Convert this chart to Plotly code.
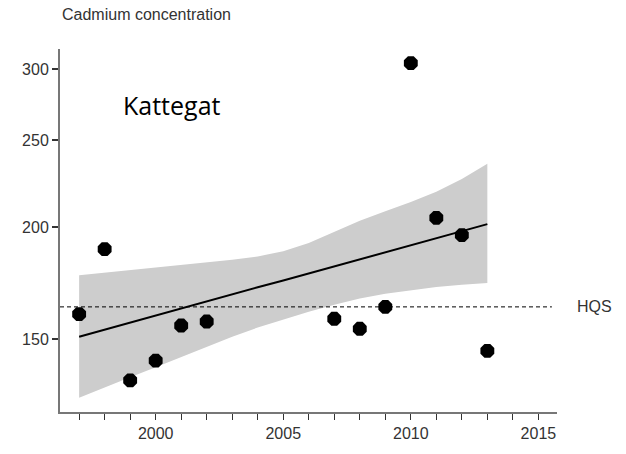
import numpy as np
import plotly.graph_objects as go

# Observed annual cadmium concentrations
years = [1997, 1998, 1999, 2000, 2001, 2002, 2007, 2008, 2009, 2010, 2011, 2012, 2013]
cadmium = [160, 189, 135, 142, 155.4, 157, 158.1, 154.1, 163, 304.5, 204.8, 195.9, 145.6]

# Fitted trend with its confidence band, one value per year
trend_years = list(range(1997, 2014))
trend = [151.0, 153.8, 156.6, 159.4, 162.3, 165.3, 168.3, 171.4, 174.4,
         177.6, 180.9, 184.1, 187.5, 190.9, 194.4, 197.9, 201.5]
band_upper = [176.8, 178.0, 179.1, 180.2, 181.4, 182.6, 183.9, 185.5, 188.0,
              192.0, 197.5, 203.3, 208.3, 213.3, 219.0, 226.3, 235.2]
band_lower = [129.1, 132.6, 136.1, 139.6, 143.3, 147.2, 151.0, 154.6, 157.9,
              161.0, 163.9, 166.5, 168.6, 170.2, 171.5, 172.5, 173.3]

# Quality standard
hqs = 163

y_ticks = [150, 200, 250, 300]
x_range = [1996.25, 2015.73]
y_range = [124.5, 315.7]

axis_col = "#777777"
text_col = "#333333"
font_family = "Liberation Sans, Arial, sans-serif"

fig = go.Figure()

fig.add_trace(go.Scatter(
    x=trend_years, y=band_lower, mode="lines",
    line=dict(width=0, color="rgba(0,0,0,0)"), hoverinfo="skip", showlegend=False,
))
fig.add_trace(go.Scatter(
    x=trend_years, y=band_upper, mode="lines", fill="tonexty",
    fillcolor="#cdcdcd", line=dict(width=0, color="rgba(0,0,0,0)"),
    hoverinfo="skip", showlegend=False,
))
fig.add_trace(go.Scatter(
    x=trend_years, y=trend, mode="lines",
    line=dict(color="black", width=2), showlegend=False,
))
fig.add_trace(go.Scatter(
    x=[x_range[0], 2015.53], y=[hqs, hqs], mode="lines",
    line=dict(color="black", width=1, dash="4px,3px"), showlegend=False,
))
fig.add_trace(go.Scatter(
    x=years, y=cadmium, mode="markers",
    marker=dict(symbol="octagon", size=15, color="black"), showlegend=False,
))

fig.add_annotation(
    text="Cadmium concentration", xref="paper", yref="paper",
    x=0, y=1.0956, xanchor="left", yanchor="middle", showarrow=False,
    font=dict(family=font_family, size=16, color=text_col),
)
fig.add_annotation(
    text="Kattegat", xref="paper", yref="paper",
    x=0.2254, y=0.846, xanchor="center", yanchor="middle", showarrow=False,
    font=dict(family="Open Sans, sans-serif", size=25, color="black"),
)
fig.add_annotation(
    text="HQS", xref="paper", yref="y",
    x=1.036, y=np.log10(hqs), xanchor="left", yanchor="middle", showarrow=False,
    font=dict(family=font_family, size=16, color=text_col),
)

fig.update_layout(
    width=626, height=454,
    margin=dict(l=60, r=69, t=49, b=39),
    plot_bgcolor="white", paper_bgcolor="white",
    font=dict(family=font_family, size=16, color=text_col),
    xaxis=dict(
        range=x_range, tick0=2000, dtick=5,
        showgrid=False, zeroline=False,
        showline=True, linecolor=axis_col, linewidth=2,
        ticks="outside", ticklen=6, tickwidth=1, tickcolor="#333333",
        minor=dict(dtick=1, tick0=2000, ticks="outside", ticklen=6,
                   tickwidth=1, tickcolor="#333333", showgrid=False),
        tickfont=dict(size=16, color=text_col),
    ),
    yaxis=dict(
        type="log", range=[np.log10(y_range[0]), np.log10(y_range[1])],
        tickvals=y_ticks, ticktext=[str(v) for v in y_ticks],
        showgrid=False, zeroline=False,
        showline=True, linecolor=axis_col, linewidth=2,
        ticks="outside", ticklen=6, tickwidth=2, tickcolor="#333333",
        tickfont=dict(size=16, color=text_col),
    ),
)

fig.write_html("out.html")
